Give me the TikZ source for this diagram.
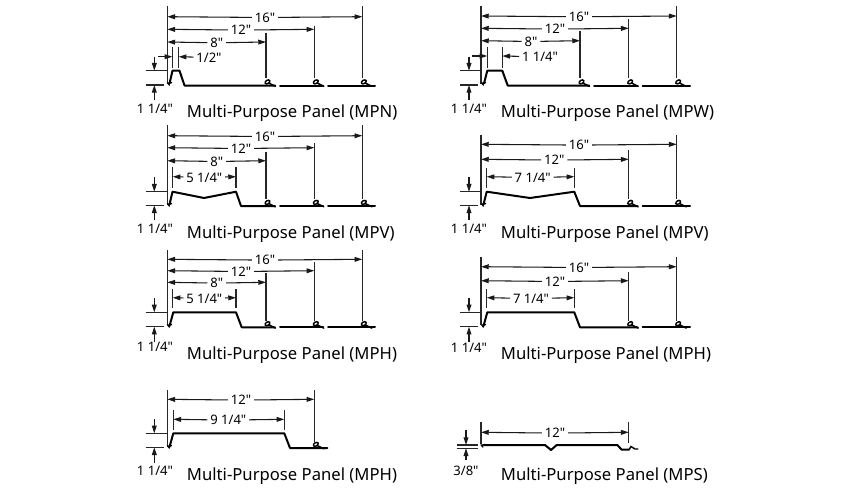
\documentclass[tikz,border=0pt]{standalone}
\usepackage{fontspec}
\setmainfont{Noto Sans}[Ligatures=TeXOff]
\usetikzlibrary{arrows.meta}
\tikzset{
  x=0.75pt,y=-0.75pt,
  dimline/.style={line width=0.8pt,draw=black!90,-{Triangle[length=5.8pt,width=3.6pt]}},
  extline/.style={line width=0.8pt,draw=black!85},
  profile/.style={line width=1.5pt,draw=black,line join=round,line cap=round},
  hookline/.style={line width=1.1pt,draw=black,line cap=round},
  lab/.style={font=\fontsize{9.8pt}{11pt}\selectfont,inner sep=2pt,text=black,text height=7pt,text depth=0pt,yshift=-0.6pt},
  titlelab/.style={font=\fontsize{12.5pt}{14pt}\selectfont,inner sep=0pt,anchor=west,text=black,yshift=-1.4pt},
}
% horizontal dimension with centred label
\newcommand{\hdim}[6]{%
  \node[lab] (#1) at (#5,#4) {#6};
  \coordinate (#1a) at (#2,#4);
  \coordinate (#1b) at (#3,#4);
  \draw[dimline] (#1) -- (#1a);
  \draw[dimline] (#1) -- (#1b);
}
% narrow dimension with arrows outside: name,x1,x2,y,labelx,label,leftstart
\newcommand{\odim}[7]{%
  \node[lab] (#1) at (#5,#4) {#6};
  \coordinate (#1a) at (#2,#4);
  \coordinate (#1b) at (#3,#4);
  \coordinate (#1c) at (#7,#4);
  \draw[dimline] (#1c) -- (#1a);
  \draw[dimline] (#1) -- (#1b);
}
\newcommand{\ext}[3]{\draw[extline] (#1,#2) -- (#1,#3);}
% height dimension: name,x,xleft,xtopright,xbotright,ytop,ybot,arrowtop,arrowbot
\newcommand{\hgt}[9]{%
  \draw[extline] (#3,#6) -- (#4,#6);
  \draw[extline] (#3,#7) -- (#5,#7);
  \coordinate (#1t) at (#2,#6);
  \coordinate (#1b) at (#2,#7);
  \coordinate (#1s) at (#2,#8);
  \coordinate (#1e) at (#2,#9);
  \draw[dimline] (#1s) -- (#1t);
  \draw[dimline] (#1e) -- (#1b);
}
% rib hook at x on baseline y
\newcommand{\rib}[2]{%
  \draw[hookline,rotate around={30:(#1+1.5,#2-3.6)}] ({#1+1.5},{#2-3.6}) ellipse (2.6 and 1.7);
  \draw[hookline] ({#1+3},{#2-2.4}) -- ({#1+9.5},{#2+0.8});
}
% starting hook
\newcommand{\starthook}[2]{%
  \draw[hookline] ({#1+3.5},{#2-1.5}) -- (#1,{#2-0.8}) -- ({#1+1.4},{#2+1});
}
\begin{document}
\begin{tikzpicture}
\useasboundingbox[fill=white] (0,0) rectangle (846,493);

% ---------- Panel 1 MPN
\ext{167.3}{6}{84}\ext{362.3}{6}{78}\ext{314.3}{26}{78}\ext{266}{32.7}{78}
\ext{172.3}{47}{68}\ext{178.7}{47}{68}
\hdim{a16}{167.3}{362.3}{16.7}{265}{16"}
\hdim{a12}{167.3}{314.3}{29.3}{241}{12"}
\hdim{a8}{167.3}{266}{42}{216.7}{8"}
\odim{a2}{172.3}{178.7}{56.7}{209}{1/2"}{158}
\hgt{ah}{154.3}{145.7}{166.7}{164}{70.7}{85}{56.7}{100}
\node[lab] (al) at (155,108) {1 1/4"};
\draw[profile] (169.5,83.5) -- (172.5,70.7) -- (179.5,70.7) -- (184.5,85.5) -- (275,85.5);
\draw[profile] (280,85.5) -- (323,85.5) (328,85.5) -- (375,85.5);
\starthook{168}{84}\rib{266}{85.5}\rib{314.3}{85.5}\rib{362.3}{85.5}
\node[titlelab] (at) at (186.7,111.7) {Multi-Purpose Panel (MPN)};

% ---------- Panel 2 MPV
\ext{167.3}{125}{205}\ext{362.3}{125}{199}\ext{314.3}{143}{199}\ext{266}{151.7}{199}
\ext{172.7}{167}{188}\ext{236}{167}{188}
\hdim{b16}{167.3}{362.3}{135.7}{265}{16"}
\hdim{b12}{167.3}{314.3}{147.7}{241}{12"}
\hdim{b8}{167.3}{266}{160.7}{216.7}{8"}
\hdim{b5}{172.7}{236}{176.7}{204.3}{5 1/4"}
\hgt{bh}{154.3}{145.7}{166.7}{164}{191.7}{205.3}{176.7}{220}
\node[lab] (bl) at (155,228.3) {1 1/4"};
\draw[profile] (169.5,204.5) -- (172.5,191.7) -- (204,198) -- (236,191.7) -- (241,206) -- (275,206);
\draw[profile] (280,206) -- (323,206) (328,206) -- (375,206);
\starthook{168}{205}\rib{266}{206}\rib{314.3}{206}\rib{362.3}{206}
\node[titlelab] (bt) at (186.7,232.7) {Multi-Purpose Panel (MPV)};

% ---------- Panel 3 MPH
\ext{167.3}{250}{325}\ext{362.3}{250}{320.5}\ext{314.3}{262}{320.5}\ext{266}{273.3}{320.5}
\ext{172.7}{289}{308}\ext{236}{289}{308}
\hdim{c16}{167.3}{362.3}{259.3}{265}{16"}
\hdim{c12}{167.3}{314.3}{270.7}{241}{12"}
\hdim{c8}{167.3}{266}{282.3}{216.7}{8"}
\hdim{c5}{172.7}{236}{297.7}{204.3}{5 1/4"}
\hgt{ch}{154.3}{145.7}{166.7}{164}{312.3}{326.7}{298}{341.7}
\node[lab] (cl) at (155,345.7) {1 1/4"};
\draw[profile] (169.5,326) -- (173.3,312.3) -- (236,312.3) -- (241.7,327.3) -- (275,327.3);
\draw[profile] (280,327.3) -- (323,327.3) (328,327.3) -- (375,327.3);
\starthook{168}{326}\rib{266}{327.3}\rib{314.3}{327.3}\rib{362.3}{327.3}
\node[titlelab] (ct) at (186.7,353.3) {Multi-Purpose Panel (MPH)};

% ---------- Panel 4 MPH
\ext{167.3}{390}{446.7}\ext{314.3}{390}{441.5}
\ext{173.3}{410}{430}\ext{284.3}{410}{430}
\hdim{d12}{167.3}{314.3}{399.3}{241}{12"}
\hdim{d9}{173.3}{284.3}{419.3}{228.3}{9 1/4"}
\hgt{dh}{154.3}{145.7}{166.7}{164}{433.3}{447.3}{419.3}{463.3}
\node[lab] (dl) at (155,470) {1 1/4"};
\draw[profile] (169.5,447) -- (173.3,433.3) -- (284.3,433.3) -- (290,448) -- (327.3,448);
\starthook{168}{447}\rib{314.3}{448}
\node[titlelab] (dt) at (186.7,474.3) {Multi-Purpose Panel (MPH)};

% ---------- Panel 5 MPW
\ext{481}{6}{84}\ext{676.7}{6}{78}\ext{628.7}{19}{78}\ext{580}{31}{78}
\ext{487.3}{47}{68}\ext{502.3}{47}{68}
\hdim{e16}{481}{676.7}{16}{579}{16"}
\hdim{e12}{481}{628.7}{28.3}{555}{12"}
\hdim{e8}{481}{580}{40.7}{531}{8"}
\odim{e2}{487.3}{502.3}{56}{540}{1 1/4"}{472}
\hgt{eh}{469}{460}{480}{478}{70.7}{85}{56.7}{100}
\node[lab] (el) at (469,108.3) {1 1/4"};
\draw[profile] (484,83.5) -- (487.3,70.7) -- (502.3,70.7) -- (507.7,85.5) -- (589,85.5);
\draw[profile] (594,85.5) -- (637.7,85.5) (642.7,85.5) -- (690,85.5);
\starthook{482}{84}\rib{580}{85.5}\rib{628.7}{85.5}\rib{676.7}{85.5}
\node[titlelab] (et) at (500.7,111.7) {Multi-Purpose Panel (MPW)};

% ---------- Panel 6 MPV
\ext{481}{135}{205}\ext{676.7}{135}{199}\ext{628.7}{150}{199}
\ext{486.7}{168}{188}\ext{574.3}{168}{188}
\hdim{f16}{481}{676.7}{144.3}{579}{16"}
\hdim{f12}{481}{628.7}{159.3}{554.3}{12"}
\hdim{f7}{486.7}{574.3}{176.7}{532.7}{7 1/4"}
\hgt{fh}{469}{460}{480}{478}{191.7}{205.3}{176.7}{220}
\node[lab] (fl) at (469,227.7) {1 1/4"};
\draw[profile] (483.5,204.5) -- (486.7,191.7) -- (530,198) -- (574.3,191.7) -- (580,206) -- (637.7,206);
\draw[profile] (642.7,206) -- (690,206);
\starthook{482}{205}\rib{628.7}{206}\rib{676.7}{206}
\node[titlelab] (ft) at (500.7,232.7) {Multi-Purpose Panel (MPV)};

% ---------- Panel 7 MPH
\ext{481}{256.7}{325}\ext{676.7}{256.7}{320.5}\ext{628.7}{271.7}{320.5}
\ext{486.7}{289}{308}\ext{574.3}{289}{308}
\hdim{g16}{481}{676.7}{266.7}{579}{16"}
\hdim{g12}{481}{628.7}{280.7}{555}{12"}
\hdim{g7}{486.7}{574.3}{297.7}{531}{7 1/4"}
\hgt{gh}{469}{460}{480}{478}{312.3}{326.7}{298}{341.7}
\node[lab] (gl) at (469,347.3) {1 1/4"};
\draw[profile] (483.5,326) -- (487.3,312.3) -- (574.3,312.3) -- (580,327.3) -- (637.7,327.3);
\draw[profile] (642.7,327.3) -- (690,327.3);
\starthook{482}{326}\rib{628.7}{327.3}\rib{676.7}{327.3}
\node[titlelab] (gt) at (500.7,353.3) {Multi-Purpose Panel (MPH)};

% ---------- Panel 8 MPS
\ext{481}{422.3}{444.3}\ext{628.7}{422.3}{443.3}
\hdim{h12}{481}{628.7}{432.3}{555}{12"}
\hgt{hh}{466}{456.7}{478.3}{478.3}{445}{448.3}{430}{460}
\node[lab] (hl) at (466,470) {3/8"};
\draw[profile] (484,445) -- (545,445) -- (551,450) -- (556.7,445) -- (617.3,445) -- (621.7,449.7) -- (629,449.7);
\draw[hookline] (629,449.7) -- (631,446.5) -- (635,449) -- (638,449);
\starthook{481.5}{446}
\node[titlelab] (ht) at (500.7,474.3) {Multi-Purpose Panel (MPS)};
\end{tikzpicture}
\end{document}
